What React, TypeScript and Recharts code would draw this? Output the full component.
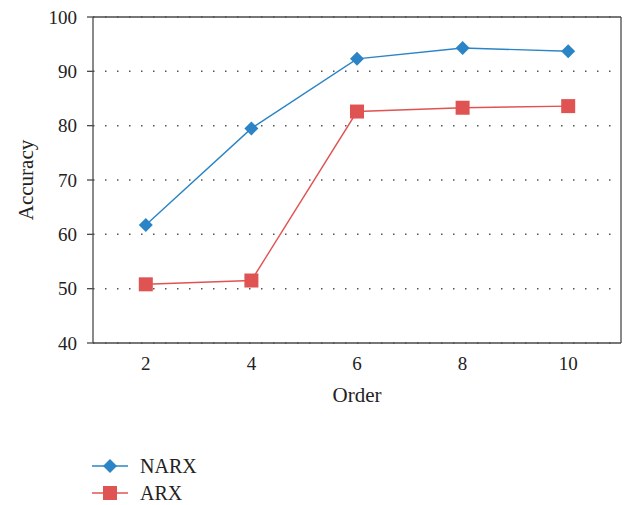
import React from 'react';
import { LineChart, Line, XAxis, YAxis, CartesianGrid, Legend } from 'recharts';

const orders = ['2', '4', '6', '8', '10'];
const narxAccuracy = [61.7, 79.5, 92.3, 94.3, 93.7];
const arxAccuracy = [50.8, 51.5, 82.6, 83.3, 83.6];
const yTicks = [40, 50, 60, 70, 80, 90, 100];

const BLUE = '#2b84c6';
const RED = '#e05353';
const AXIS = '#4a4a4a';
const FONT = 'Liberation Serif';

const data = orders.map((order, i) => ({
  order,
  NARX: narxAccuracy[i],
  ARX: arxAccuracy[i],
}));

const Diamond = (props: any) => {
  const { cx, cy, key } = props;
  if (cx == null || cy == null) return null;
  const r = 7;
  return (
    <polygon
      key={key}
      points={`${cx},${cy - r} ${cx + r},${cy} ${cx},${cy + r} ${cx - r},${cy}`}
      fill={BLUE}
    />
  );
};

const Square = (props: any) => {
  const { cx, cy, key } = props;
  if (cx == null || cy == null) return null;
  const s = 14;
  return <rect key={key} x={cx - s / 2} y={cy - s / 2} width={s} height={s} fill={RED} />;
};

const legendItems = [
  { name: 'NARX', color: BLUE, shape: 'diamond' },
  { name: 'ARX', color: RED, shape: 'square' },
];

const LegendContent = () => (
  <div style={{ position: 'relative', width: 627, height: 62 }}>
    {legendItems.map((item, i) => (
      <div
        key={item.name}
        style={{
          position: 'absolute',
          left: 92,
          top: 11 + i * 27,
          height: 24,
          display: 'flex',
          alignItems: 'center',
        }}
      >
        <svg width={36} height={18} style={{ display: 'block' }}>
          <line x1={0} y1={9} x2={36} y2={9} stroke={item.color} strokeWidth={1.4} />
          {item.shape === 'diamond' ? (
            <polygon points="18,2 25,9 18,16 11,9" fill={item.color} />
          ) : (
            <rect x={11} y={2} width={14} height={14} fill={item.color} />
          )}
        </svg>
        <span style={{ marginLeft: 12, fontSize: 20, color: '#222', fontFamily: FONT }}>{item.name}</span>
      </div>
    ))}
  </div>
);

export default function App() {
  return (
    <div
      style={{
        position: 'absolute',
        left: 0,
        top: 0,
        width: 627,
        height: 505,
        background: '#fff',
        fontFamily: FONT,
      }}
    >
      <LineChart width={627} height={505} data={data} margin={{ top: 16, right: 5, left: 0, bottom: 0 }}>
        <CartesianGrid
          horizontal
          vertical={false}
          stroke="#555"
          strokeWidth={1.5}
          strokeDasharray="1.5 10.5"
        />
        <XAxis
          dataKey="order"
          padding={{ left: 52.8, right: 52.8 }}
          height={100}
          tickLine={false}
          tickSize={0}
          tickMargin={14}
          axisLine={{ stroke: AXIS, strokeWidth: 1.3 }}
          tick={{ fontSize: 19, fill: '#222', fontFamily: FONT }}
          label={{ value: 'Order', position: 'insideTop', offset: 44, fontSize: 21, fill: '#222', fontFamily: FONT }}
        />
        <XAxis
          xAxisId="top"
          dataKey="order"
          orientation="top"
          height={1}
          tick={false}
          tickLine={false}
          axisLine={{ stroke: AXIS, strokeWidth: 1.3 }}
        />
        <YAxis
          domain={[40, 100]}
          ticks={yTicks}
          width={93}
          tickSize={6}
          tickMargin={10}
          interval={0}
          axisLine={{ stroke: AXIS, strokeWidth: 1.3 }}
          tickLine={{ stroke: AXIS, strokeWidth: 1.3 }}
          tick={{ fontSize: 19, fill: '#222', fontFamily: FONT }}
          label={{
            value: 'Accuracy',
            angle: -90,
            position: 'center',
            dx: -21,
            fontSize: 21,
            fill: '#222',
            fontFamily: FONT,
          }}
        />
        <YAxis
          yAxisId="right"
          orientation="right"
          width={1}
          domain={[40, 100]}
          tick={false}
          tickLine={false}
          axisLine={{ stroke: AXIS, strokeWidth: 1.3 }}
        />
        <Legend verticalAlign="bottom" align="left" wrapperStyle={{ left: 0, height: 62 }} content={LegendContent} />
        <Line
          dataKey="NARX"
          stroke={BLUE}
          strokeWidth={1.4}
          dot={Diamond}
          activeDot={false}
          isAnimationActive={false}
        />
        <Line
          dataKey="ARX"
          stroke={RED}
          strokeWidth={1.4}
          dot={Square}
          activeDot={false}
          isAnimationActive={false}
        />
      </LineChart>
    </div>
  );
}
